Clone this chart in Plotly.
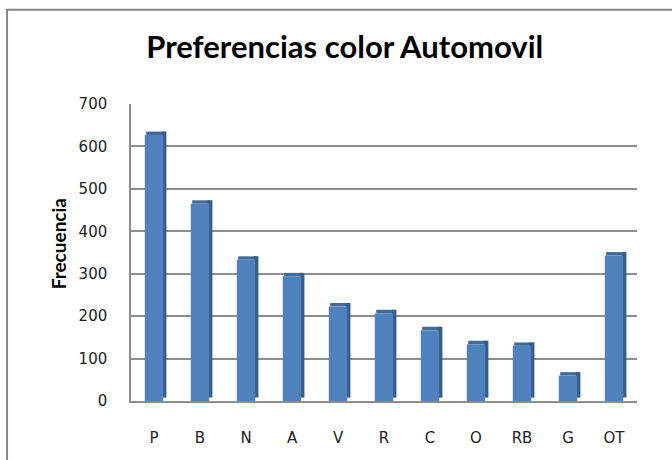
import plotly.graph_objects as go

categorias = ["P", "B", "N", "A", "V", "R", "C", "O", "RB", "G", "OT"]
frecuencia = [627, 465, 333, 294, 223, 207, 167, 134, 130, 60, 343]
ticks_y = [0, 100, 200, 300, 400, 500, 600, 700]

azul = "#4F81BD"
azul_lado = "#385D8A"
azul_tapa = "#41699B"
prof = 8  # depth of the fake 3d faces, in data units

fig = go.Figure()

# top face
fig.add_trace(go.Bar(
    x=categorias, y=[prof] * len(frecuencia), base=frecuencia,
    width=0.4, offset=-0.17, marker=dict(color=azul_tapa, line=dict(width=0)),
    hoverinfo="skip", showlegend=False
))
# side face
fig.add_trace(go.Bar(
    x=categorias, y=frecuencia, base=[prof] * len(frecuencia),
    width=0.1, offset=0.17, marker=dict(color=azul_lado, line=dict(width=0)),
    hoverinfo="skip", showlegend=False
))
# front face
fig.add_trace(go.Bar(
    x=categorias, y=frecuencia, name="Frecuencia",
    width=0.4, offset=-0.2, marker=dict(color=azul, line=dict(width=0)),
    showlegend=False
))

fig.update_layout(
    width=672, height=460,
    margin=dict(l=131, r=35, t=104, b=59),
    paper_bgcolor="white", plot_bgcolor="white",
    barmode="overlay",
    title=dict(
        text="<b>Preferencias color Automovil</b>",
        x=0.513, xanchor="center", y=0.898, yanchor="middle",
        font=dict(family="Lato, Carlito, Calibri, sans-serif", size=31, color="black")
    ),
    xaxis=dict(
        showgrid=False, showline=True, linecolor="#8C8C8C", linewidth=1.5,
        ticks="", ticklabelstandoff=22,
        tickfont=dict(family="DejaVu Sans, Verdana, sans-serif", size=15, color="#222222")
    ),
    yaxis=dict(
        range=[0, 700], tickvals=ticks_y,
        showgrid=True, gridcolor="#8C8C8C", gridwidth=1.5,
        showline=True, linecolor="#8C8C8C", linewidth=1.5,
        zeroline=False, ticks="", ticklabelstandoff=19,
        tickfont=dict(family="DejaVu Sans, Verdana, sans-serif", size=15, color="#222222")
    ),
    annotations=[dict(
        text="<b>Frecuencia</b>", textangle=-90,
        xref="paper", yref="paper", x=-0.144, y=0.528,
        xanchor="center", yanchor="middle", showarrow=False,
        font=dict(family="Lato, Carlito, Calibri, sans-serif", size=19, color="black")
    )],
    shapes=[dict(
        type="rect", xref="paper", yref="paper",
        x0=-0.245, x1=1.2, y0=-0.4, y1=1.317,
        line=dict(color="#878787", width=2), fillcolor="rgba(0,0,0,0)", layer="below"
    )]
)

fig.write_html("out.html", config={"displayModeBar": False},
               post_script="document.body.style.margin='0px';")
